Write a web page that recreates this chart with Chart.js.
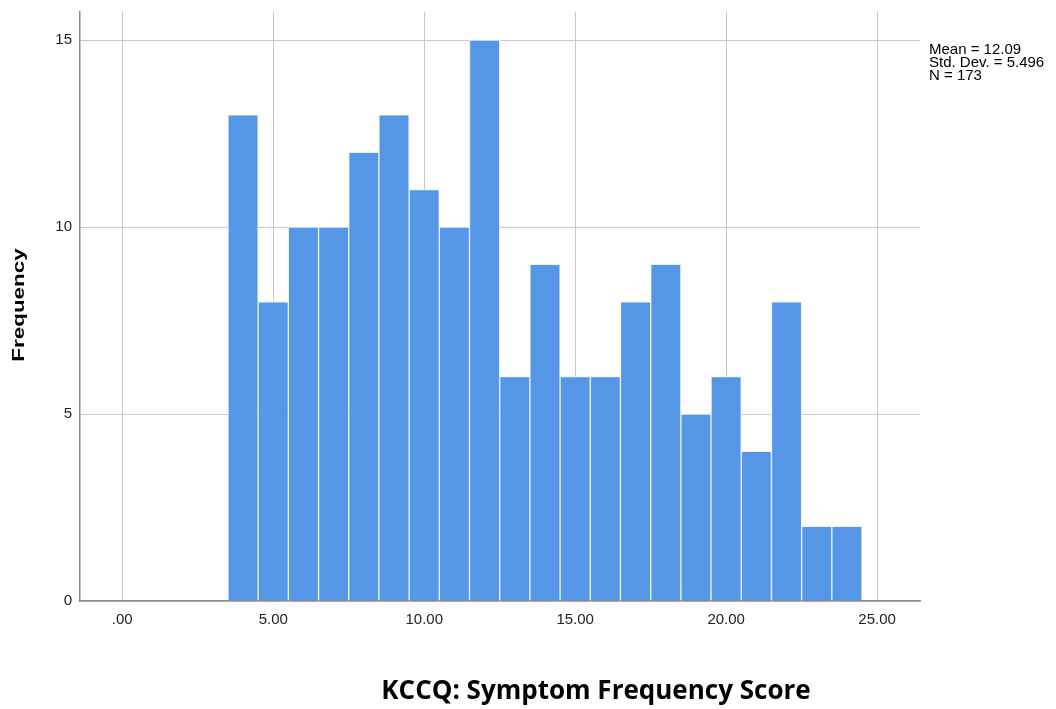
<!DOCTYPE html>
<html>
<head>
<meta charset="utf-8">
<script src="https://cdn.jsdelivr.net/npm/chart.js@4/dist/chart.umd.min.js"></script>
<style>
  html, body { margin: 0; padding: 0; background: #fff; }
  #wrap { width: 1056px; height: 709px; }
</style>
</head>
<body>
<div id="wrap"><canvas id="canvas"></canvas></div>
<script>
// histogram bins (centre of each 1-point bin) and counts
var binCenters = [4, 5, 6, 7, 8, 9, 10, 11, 12, 13, 14, 15, 16, 17, 18, 19, 20, 21, 22, 23, 24];
var frequencies = [13, 8, 10, 10, 12, 13, 11, 10, 15, 6, 9, 6, 6, 8, 9, 5, 6, 4, 8, 2, 2];
var xTicks = [0, 5, 10, 15, 20, 25];
var yTicks = [0, 5, 10, 15];
var statsLines = ['Mean = 12.09', 'Std. Dev. = 5.496', 'N = 173'];
var xTitle = 'KCCQ: Symptom Frequency Score';
var yTitle = 'Frequency';

var extraText = {
   id: 'extraText',
   afterDraw: function(chart) {
      var ctx = chart.ctx;
      ctx.save();
      ctx.fillStyle = '#000';
      ctx.textBaseline = 'middle';
      ctx.textAlign = 'left';
      ctx.font = '15px "Liberation Sans", Arial, sans-serif';
      for (var i = 0; i < statsLines.length; i++) {
         ctx.fillText(statsLines[i], 929, 50 + i * 13);
      }

      ctx.textAlign = 'center';
      ctx.textBaseline = 'alphabetic';
      ctx.font = 'bold 26px "Open Sans", Lato, sans-serif';
      ctx.fillText(xTitle, 596, 699);

      // y title, rotated; stretched along its length like the original
      ctx.translate(24, 305);
      ctx.rotate(-Math.PI / 2);
      ctx.scale(1.4, 1);
      ctx.textBaseline = 'alphabetic';
      ctx.font = 'bold 16px "Liberation Sans", Arial, sans-serif';
      ctx.fillText(yTitle, 0, 0);
      ctx.restore();
   }
};

var points = binCenters.map(function(c, i) { return {x: c, y: frequencies[i]}; });

var config = {
   type: 'bar',
   data: {
      datasets: [{
         data: points,
         backgroundColor: '#5596e6',
         borderColor: 'rgba(235,242,252,0.9)',
         borderWidth: 1,
         barPercentage: 1,
         categoryPercentage: 1
      }]
   },
   options: {
      responsive: false,
      animation: false,
      layout: { padding: { left: 0, right: 136, top: 12, bottom: 68 } },
      plugins: {
         legend: { display: false },
         tooltip: { enabled: false }
      },
      scales: {
         x: {
            type: 'linear',
            offset: false,
            min: -1.4,
            max: 26.42,
            afterBuildTicks: function(scale) {
               scale.ticks = xTicks.map(function(v) { return {value: v}; });
            },
            afterFit: function(scale) { scale.height = 40; },
            grid: { offset: false, color: '#c8c8c8', lineWidth: 1, drawTicks: false },
            border: { color: '#8a8a8a', width: 1.5 },
            ticks: {
               padding: 10,
               color: '#222',
               font: { family: '"Liberation Sans", Arial, sans-serif', size: 15 },
               callback: function(v) { return v.toFixed(2).replace(/^0\./, '.'); }
            }
         },
         y: {
            min: 0,
            max: 15.75,
            afterBuildTicks: function(scale) {
               scale.ticks = yTicks.map(function(v) { return {value: v}; });
            },
            afterFit: function(scale) {
               scale.width = 80;
               scale.paddingTop = 0;
               scale.paddingBottom = 0;
            },
            grid: { color: '#c8c8c8', lineWidth: 1, drawTicks: false },
            border: { color: '#8a8a8a', width: 1.5 },
            ticks: {
               padding: 8,
               color: '#222',
               font: { family: '"Liberation Sans", Arial, sans-serif', size: 15 }
            }
         }
      }
   },
   plugins: [extraText]
};

var canvas = document.getElementById('canvas');
canvas.width = 1056;
canvas.height = 709;
window.histChart = new Chart(canvas, config);
</script>
</body>
</html>
